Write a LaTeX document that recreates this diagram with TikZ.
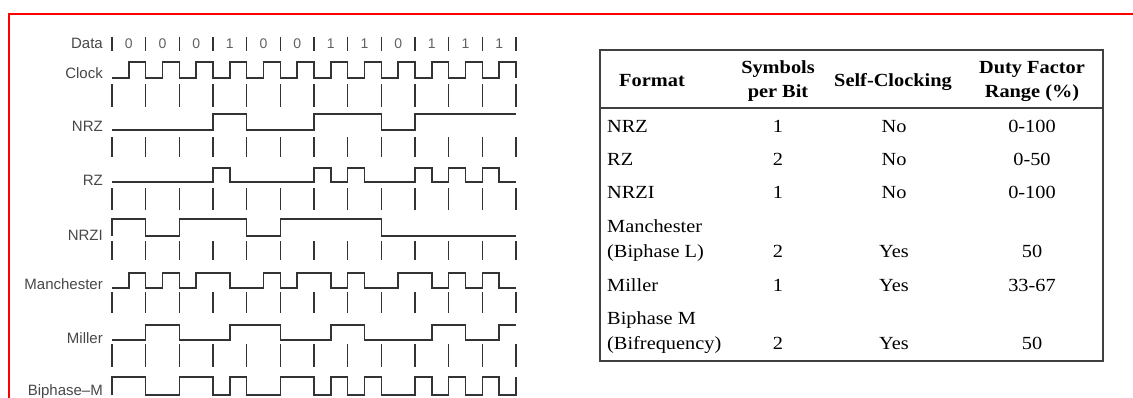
\documentclass[tikz,border=0pt]{standalone}
\usepackage{fontspec}
\setmainfont{Liberation Serif}[FakeStretch=1.1]
\newfontfamily\labfont{Liberation Sans}
\newcommand\wavesig[3]{%
  \begin{scope}[shift={(112,#1)}, x=16.8333pt, y=#2pt]
    \draw[wave] plot[const plot] coordinates {#3};
  \end{scope}}
\newcommand\tickrow[2]{%
  \foreach \i in {0,...,12} \draw[tickmark] ({112+33.6667*\i},#1) -- ({112+33.6667*\i},#2);}
\begin{document}
\begin{tikzpicture}[x=1pt,y=-1pt,
  wave/.style={line width=1.4pt, draw=black!80, line join=miter},
  tickmark/.style={line width=1.4pt, draw=black!80},
  lab/.style={anchor=base east, font=\labfont\fontsize{15}{18}\selectfont, text=black!72, inner sep=0pt},
  digit/.style={font=\labfont\fontsize{14}{16}\selectfont, text=black!62, inner sep=0pt},
  frame/.style={draw=red, line width=1.5pt},
  tbl/.style={draw=black!75, line width=1.8pt},
  hd/.style={anchor=base, font=\bfseries\fontsize{18.5}{22}\selectfont, text=black, inner sep=0pt},
  cellc/.style={anchor=base, font=\fontsize{18.5}{22}\selectfont, text=black, inner sep=0pt},
  celll/.style={anchor=base west, font=\fontsize{18.5}{22}\selectfont, text=black, inner sep=0pt}]
\useasboundingbox (0,0) rectangle (1133,398);
\begin{scope}
\clip (0,0) rectangle (1133,398);
% red frame
\draw[frame] (9,398) -- (9,14) -- (1133,14);

% labels
\node[lab] (lData) at (103,49) {Data};
\node[lab] (lClock) at (103,79) {Clock};
\node[lab] (lNRZ) at (103,132) {NRZ};
\node[lab] (lRZ) at (103,186) {RZ};
\node[lab] (lNRZI) at (103,241) {NRZI};
\node[lab] (lMan) at (103,290) {Manchester};
\node[lab] (lMil) at (103,343) {Miller};
\node[lab] (lBiM) at (103,395) {Biphase–M};

% data row
\foreach \i in {0,...,12} \draw[tickmark] ({112+33.6667*\i},37) -- ({112+33.6667*\i},51);
\foreach \d [count=\i from 0] in {0,0,0,1,0,0,1,1,0,1,1,1}
  \node[digit] (d\i) at ({112+33.6667*(\i+0.5)},43.5) {\d};

% clock
\wavesig{78}{16}{(0,0) (1,1) (2,0) (3,1) (4,0) (5,1) (6,0) (7,1) (8,0) (9,1) (10,0) (11,1) (12,0) (13,1) (14,0) (15,1) (16,0) (17,1) (18,0) (19,1) (20,0) (21,1) (22,0) (23,1) (24,0)}
\tickrow{84}{107}
% NRZ
\wavesig{130}{16}{(0,0) (6,1) (8,0) (12,1) (16,0) (18,1) (24,1)}
\tickrow{137}{157}
% RZ
\wavesig{182}{14}{(0,0) (6,1) (7,0) (12,1) (13,0) (14,1) (15,0) (18,1) (19,0) (20,1) (21,0) (22,1) (23,0) (24,0)}
\tickrow{188}{210}
% NRZI
\wavesig{236}{17}{(0,0) (0,1) (2,0) (4,1) (8,0) (10,1) (16,0) (24,0)}
\tickrow{241}{260}
% Manchester
\wavesig{288}{15}{(0,0) (1,1) (2,0) (3,1) (4,0) (5,1) (7,0) (9,1) (10,0) (11,1) (13,0) (14,1) (15,0) (17,1) (19,0) (20,1) (21,0) (22,1) (23,0) (24,0)}
\tickrow{292}{313}
% Miller
\wavesig{340}{15}{(0,0) (2,1) (4,0) (7,1) (10,0) (13,1) (15,0) (19,1) (21,0) (23,1) (24,1)}
\tickrow{344}{367}
% Biphase-M
\wavesig{395}{18}{(0,0) (0,1) (2,0) (4,1) (6,0) (7,1) (8,0) (10,1) (12,0) (13,1) (14,0) (15,1) (16,0) (18,1) (19,0) (20,1) (21,0) (22,1) (23,0) (24,1)}
\end{scope}

% table
\draw[tbl] (600,50) rectangle (1103,361);
\draw[tbl] (600,108) -- (1103,108);

\node[hd] (hF) at (652,87) {Format};
\node[hd] (hS1) at (778,74) {Symbols};
\node[hd] (hS2) at (778,98) {per Bit};
\node[hd] (hC) at (893,87) {Self-Clocking};
\node[hd] (hD1) at (1032,74) {Duty Factor};
\node[hd] (hD2) at (1032,98) {Range (\%)};

\node[celll] (f1) at (607,133) {NRZ};
\node[celll] (f2) at (607,166) {RZ};
\node[celll] (f3) at (607,199) {NRZI};
\node[celll] (f4a) at (607,233) {Manchester};
\node[celll] (f4b) at (607,258) {(Biphase L)};
\node[celll] (f5) at (607,291) {Miller};
\node[celll] (f6a) at (607,324) {Biphase M};
\node[celll] (f6b) at (607,349) {(Bifrequency)};

\foreach \y/\s/\c/\r [count=\k] in {133/1/No/0-100, 166/2/No/0-50, 199/1/No/0-100, 258/2/Yes/50, 291/1/Yes/33-67, 349/2/Yes/50}{
  \node[cellc] (s\k) at (778,\y) {\s};
  \node[cellc] (c\k) at (894,\y) {\c};
  \node[cellc] (r\k) at (1032,\y) {\r};
}
\end{tikzpicture}
\end{document}
